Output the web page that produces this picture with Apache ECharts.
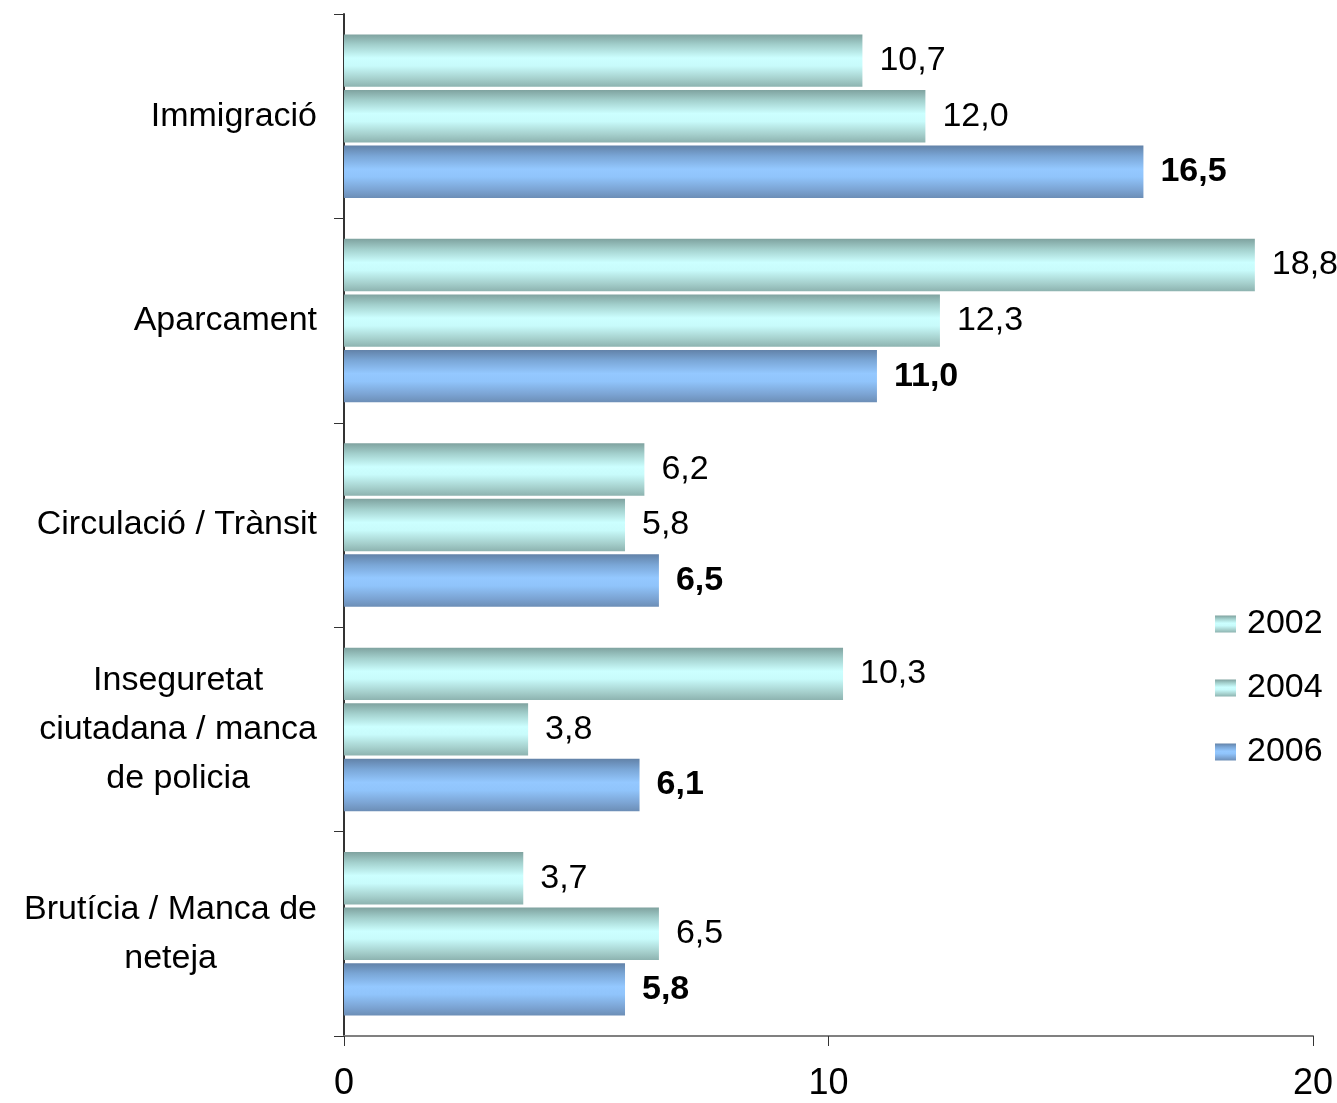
<!DOCTYPE html>
<html>
<head>
<meta charset="utf-8">
<script src="https://cdn.jsdelivr.net/npm/echarts@6/dist/echarts.min.js"></script>
<style>
  html, body { margin: 0; padding: 0; background: #fff; }
  #chart { width: 1337px; height: 1103px; }
</style>
</head>
<body>
<div id="chart"></div>
<script>
const categories = [
  'Immigració',
  'Aparcament',
  'Circulació / Trànsit',
  'Inseguretat\nciutadana / manca\nde policia',
  'Brutícia / Manca de\nneteja'
]
const years = ['2002', '2004', '2006']
const values2002 = [10.7, 18.8, 6.2, 10.3, 3.7]
const values2004 = [12.0, 12.3, 5.8, 3.8, 6.5]
const values2006 = [16.5, 11.0, 6.5, 6.1, 5.8]

const font = '"Liberation Sans", Arial, Helvetica, sans-serif'

// cylinder-like shading, dark edges and light middle
const tealGrad = () => new echarts.graphic.LinearGradient(0, 0, 0, 1, [
  { offset: 0, color: '#7fa29f' },
  { offset: 0.2, color: '#a3d0cd' },
  { offset: 0.45, color: '#ccffff' },
  { offset: 0.6, color: '#c8fbfb' },
  { offset: 0.85, color: '#a5cfcc' },
  { offset: 1, color: '#8db3b0' }
])
const blueGrad = () => new echarts.graphic.LinearGradient(0, 0, 0, 1, [
  { offset: 0, color: '#6282a8' },
  { offset: 0.2, color: '#7aa6d6' },
  { offset: 0.45, color: '#94c8ff' },
  { offset: 0.6, color: '#90c4fb' },
  { offset: 0.85, color: '#7ba3d2' },
  { offset: 1, color: '#6c8eb6' }
])

const fmt = v => v.toFixed(1).replace('.', ',')

const chart = echarts.init(document.getElementById('chart'), null, { renderer: 'canvas' })

const makeSeries = (name, data, color, bold) => ({
  name,
  type: 'bar',
  data,
  barGap: '6%',
  barCategoryGap: '20%',
  itemStyle: { color },
  label: {
    show: true,
    position: 'right',
    distance: 17,
    formatter: p => fmt(p.value),
    color: '#000',
    fontFamily: font,
    fontSize: 34,
    fontWeight: bold ? 'bold' : 'normal'
  }
})

chart.setOption({
  backgroundColor: '#fff',
  animation: false,
  textStyle: { fontFamily: font },
  grid: { left: 344, right: 24, top: 14, bottom: 67, containLabel: false },
  legend: {
    orient: 'vertical',
    left: 1210,
    top: 602,
    icon: 'rect',
    itemWidth: 21,
    itemHeight: 17,
    itemGap: 30,
    textStyle: { color: '#000', fontSize: 34, fontFamily: font, padding: [0, 0, 0, 6] },
    data: years
  },
  xAxis: {
    type: 'value',
    min: 0,
    max: 20,
    interval: 10,
    splitLine: { show: false },
    axisLine: { show: true, lineStyle: { color: '#808080', width: 2 } },
    axisTick: { show: true, length: 10, lineStyle: { color: '#333', width: 1 } },
    axisLabel: { color: '#000', fontSize: 36, fontFamily: font, margin: 30 }
  },
  yAxis: {
    type: 'category',
    inverse: true,
    data: categories,
    axisLine: { show: true, lineStyle: { color: '#333', width: 2 } },
    axisTick: { show: true, length: 10, lineStyle: { color: '#333', width: 1 } },
    axisLabel: {
      color: '#000',
      fontSize: 34,
      fontFamily: font,
      margin: 27,
      lineHeight: 49,
      align: 'right',
      formatter: v => v.split('\n').map(l => '{c|' + l + '}').join('\n'),
      rich: { c: { align: 'center', fontSize: 34, fontFamily: font, lineHeight: 49, color: '#000' } }
    }
  },
  series: [
    makeSeries('2002', values2002, tealGrad(), false),
    makeSeries('2004', values2004, tealGrad(), false),
    makeSeries('2006', values2006, blueGrad(), true)
  ]
})
</script>
</body>
</html>
